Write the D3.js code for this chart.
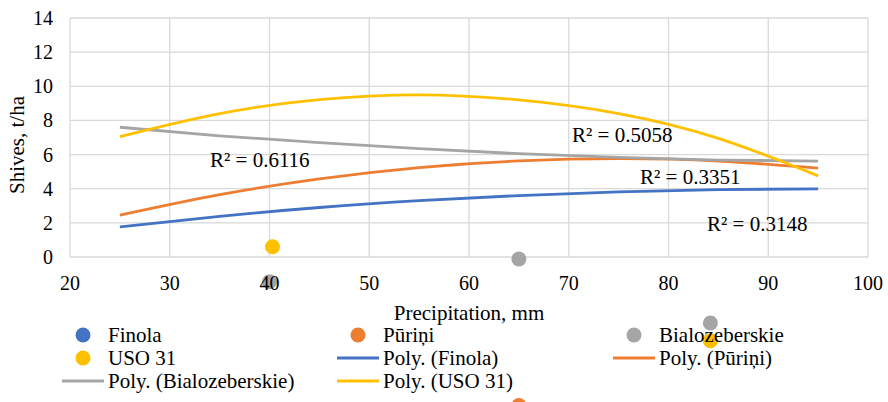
<!DOCTYPE html>
<html>
  <head>
    <script src="https://d3js.org/d3.v7.min.js"></script>
    <style>
      body { margin: 0; background: #fff; }
      svg { display: block; }
      svg text { font-family: "Liberation Serif", "DejaVu Serif", serif; fill: #000; }
      .grid line { stroke: #d9d9d9; stroke-width: 1.3px; }
      .tick-label { font-size: 20px; }
      .axis-title { font-size: 21px; }
      .r2 { font-size: 21px; }
      .legend text { font-size: 21px; }
      .trend { fill: none; stroke-width: 2.8px; }
    </style>
  </head>
  <body>
    <svg width="888" height="402"></svg>
    <script>
      // axis ticks
      const xTicks = [20, 30, 40, 50, 60, 70, 80, 90, 100];
      const yTicks = [0, 2, 4, 6, 8, 10, 12, 14];

      // series names and colours
      const seriesNames = ["Finola", "Pūriņi", "Bialozeberskie", "USO 31"];
      const seriesColors = ["#4472C4", "#ED7D31", "#A5A5A5", "#FFC000"];

      // polynomial trend lines
      const trendX = [25, 35, 45, 55, 65, 75, 85, 95];
      const trendFinola = [1.76, 2.38, 2.9, 3.3, 3.6, 3.82, 3.95, 3.99];
      const trendPurini = [2.45, 3.65, 4.58, 5.24, 5.63, 5.76, 5.62, 5.2];
      const trendBialo = [7.6, 7.1, 6.7, 6.35, 6.05, 5.83, 5.68, 5.62];
      const trendUso = [7.05, 8.4, 9.22, 9.5, 9.2, 8.4, 6.95, 4.75];

      // scatter points that are visible in the picture
      const pointsPuriniX = [65];
      const pointsPuriniY = [-8.7];
      const pointsBialoX = [40, 65, 84.2];
      const pointsBialoY = [-1.45, -0.12, -3.87];
      const pointsUsoX = [40.3, 84.2];
      const pointsUsoY = [0.6, -4.9];

      // R² labels
      const r2Text = ["R² = 0.3148", "R² = 0.3351", "R² = 0.6116", "R² = 0.5058"];

      const svg = d3.select("svg");

      const x = d3.scaleLinear().domain([20, 100]).range([70, 868]);
      const y = d3.scaleLinear().domain([0, 14]).range([257, 18]);

      // grid
      const grid = svg.append("g").attr("class", "grid");
      grid.selectAll(".vx").data(xTicks).enter().append("line")
        .attr("x1", d => x(d)).attr("x2", d => x(d))
        .attr("y1", y(14)).attr("y2", y(0));
      grid.selectAll(".hy").data(yTicks).enter().append("line")
        .attr("x1", x(20)).attr("x2", x(100))
        .attr("y1", d => y(d)).attr("y2", d => y(d));

      // trend lines
      const trends = [trendFinola, trendPurini, trendBialo, trendUso];
      const line = d3.line()
        .x((d, i) => x(trendX[i]))
        .y(d => y(d))
        .curve(d3.curveNatural);

      trends.forEach((t, i) => {
        svg.append("path")
          .datum(t)
          .attr("class", "trend")
          .attr("stroke", seriesColors[i])
          .attr("d", line);
      });

      // scatter points
      const pointSets = [
        [pointsPuriniX, pointsPuriniY, 1],
        [pointsBialoX, pointsBialoY, 2],
        [pointsUsoX, pointsUsoY, 3]
      ];
      pointSets.forEach(([px, py, ci]) => {
        svg.selectAll(null)
          .data(px.map((v, i) => ({x: v, y: py[i]})))
          .enter().append("circle")
          .attr("cx", d => x(d.x))
          .attr("cy", d => y(d.y))
          .attr("r", 7.5)
          .attr("fill", seriesColors[ci]);
      });

      // tick labels
      svg.selectAll(".xl").data(xTicks).enter().append("text")
        .attr("class", "tick-label")
        .attr("x", d => x(d))
        .attr("y", 290)
        .attr("text-anchor", "middle")
        .text(d => d);

      svg.selectAll(".yl").data(yTicks).enter().append("text")
        .attr("class", "tick-label")
        .attr("x", 53)
        .attr("y", d => y(d) + 7)
        .attr("text-anchor", "end")
        .text(d => d);

      // axis titles
      svg.append("text")
        .attr("class", "axis-title")
        .attr("x", (x(20) + x(100)) / 2)
        .attr("y", 320)
        .attr("text-anchor", "middle")
        .text("Precipitation, mm");

      svg.append("text")
        .attr("class", "axis-title")
        .attr("transform", "translate(24,145) rotate(-90)")
        .attr("text-anchor", "middle")
        .text("Shives, t/ha");

      // R² labels
      const r2Pos = [[707, 231], [640, 184], [210, 167], [572, 142]];
      r2Text.forEach((t, i) => {
        svg.append("text")
          .attr("class", "r2")
          .attr("x", r2Pos[i][0])
          .attr("y", r2Pos[i][1])
          .text(t);
      });

      // legend
      const legendItems = [
        {name: seriesNames[0], c: 0, type: "dot"},
        {name: seriesNames[1], c: 1, type: "dot"},
        {name: seriesNames[2], c: 2, type: "dot"},
        {name: seriesNames[3], c: 3, type: "dot"},
        {name: "Poly. (" + seriesNames[0] + ")", c: 0, type: "line"},
        {name: "Poly. (" + seriesNames[1] + ")", c: 1, type: "line"},
        {name: "Poly. (" + seriesNames[2] + ")", c: 2, type: "line"},
        {name: "Poly. (" + seriesNames[3] + ")", c: 3, type: "line"}
      ];
      const colX = [108, 383, 659];
      const rowY = [335, 358, 381];

      const legend = svg.append("g").attr("class", "legend");
      legendItems.forEach((d, i) => {
        const cx = colX[i % 3], cy = rowY[Math.floor(i / 3)];
        const g = legend.append("g").attr("transform", `translate(${cx},${cy})`);
        if (d.type === "dot") {
          g.append("circle").attr("cx", -25).attr("cy", 0).attr("r", 7.5)
            .attr("fill", seriesColors[d.c]);
        } else {
          g.append("line").attr("x1", -46).attr("x2", -4)
            .attr("y1", 0).attr("y2", 0)
            .attr("stroke", seriesColors[d.c]).attr("stroke-width", 2.8);
        }
        g.append("text").attr("x", 0).attr("y", 7).text(d.name);
      });
    </script>
  </body>
</html>
